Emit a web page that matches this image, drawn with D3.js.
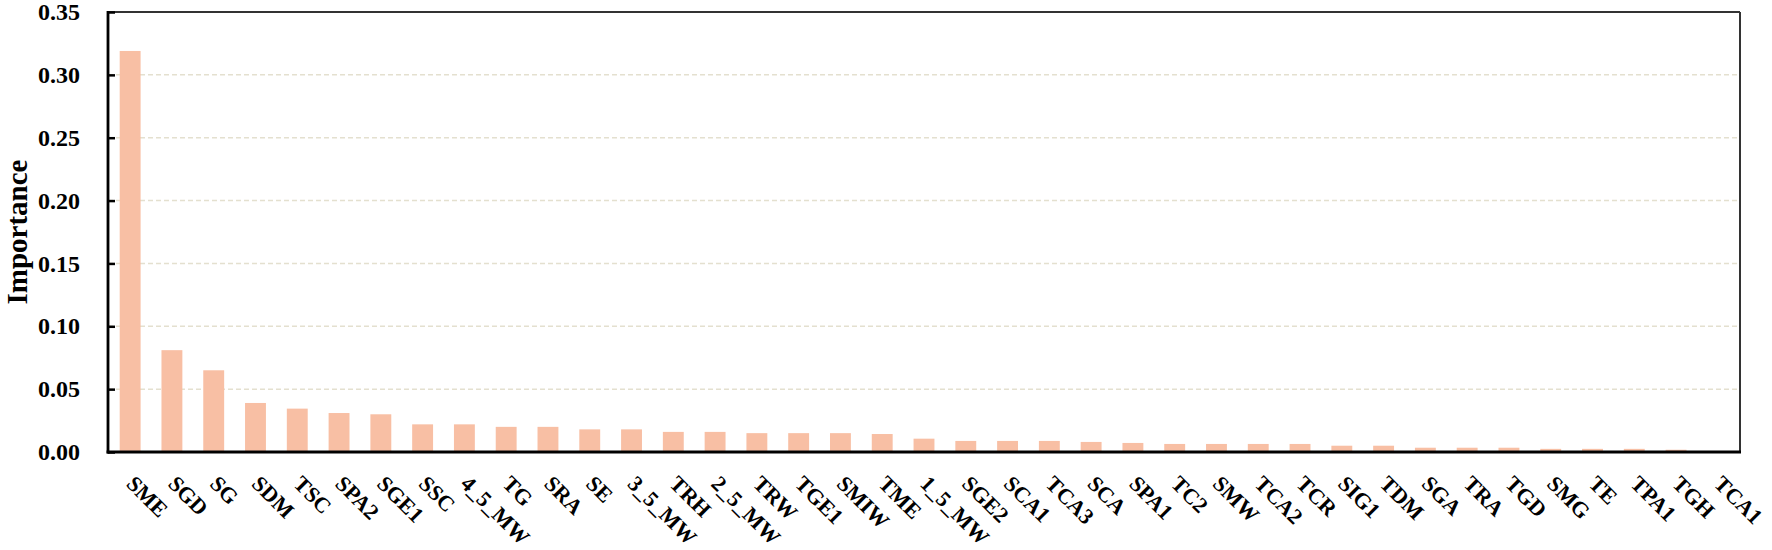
<!DOCTYPE html>
<html>
<head>
<meta charset="utf-8">
<script src="https://cdn.jsdelivr.net/npm/d3@7"></script>
<style>
  html, body { margin: 0; padding: 0; background: #fff; }
  svg { display: block; }
</style>
</head>
<body>
<svg id="chart" width="1772" height="550"></svg>
<script>
const categories = ["SME","SGD","SG","SDM","TSC","SPA2","SGE1","SSC","4_5_MW","TG","SRA","SE","3_5_MW","TRH","2_5_MW","TRW","TGE1","SMIW","TME","1_5_MW","SGE2","SCA1","TCA3","SCA","SPA1","TC2","SMW","TCA2","TCR","SIG1","TDM","SGA","TRA","TGD","SMG","TE","TPA1","TGH","TCA1"];
const importance = [0.319,0.081,0.065,0.039,0.0345,0.031,0.030,0.022,0.022,0.020,0.020,0.018,0.018,0.016,0.016,0.015,0.015,0.015,0.0143,0.0106,0.0088,0.0088,0.0088,0.008,0.0072,0.0064,0.0064,0.0064,0.0064,0.005,0.005,0.0034,0.0034,0.0034,0.0025,0.0025,0.0025,0.0018,0.0003];
const yTicks = [0.00,0.05,0.10,0.15,0.20,0.25,0.30,0.35];
const yLabel = "Importance";

(function () {
const svg = d3.select("#chart");
const mLeft = 108, mRight = 1740, mTop = 12, mBottom = 452;
const font = "'Liberation Serif', 'Times New Roman', serif";

const x = d3.scaleBand().domain(categories).range([mLeft, mRight]).paddingInner(0.5).paddingOuter(0.28);
const y = d3.scaleLinear().domain([0, 0.35]).range([mBottom, mTop]);

// gridlines
svg.append("g").selectAll("line")
  .data(yTicks.filter(t => t > 0 && t < 0.35))
  .join("line")
  .attr("x1", mLeft).attr("x2", mRight)
  .attr("y1", d => y(d)).attr("y2", d => y(d))
  .attr("stroke", "#e4e0cf").attr("stroke-width", 1.5)
  .attr("stroke-dasharray", "5,3");

// bars
svg.append("g").selectAll("rect")
  .data(categories.map((c, i) => ({c, v: importance[i]})))
  .join("rect")
  .attr("x", d => x(d.c))
  .attr("width", x.bandwidth())
  .attr("y", d => y(d.v))
  .attr("height", d => y(0) - y(d.v))
  .attr("fill", "#f8bfa4");

// frame top & right
svg.append("line").attr("x1", mLeft).attr("x2", mRight).attr("y1", mTop).attr("y2", mTop)
  .attr("stroke", "#333").attr("stroke-width", 2);
svg.append("line").attr("x1", mRight).attr("x2", mRight).attr("y1", mTop).attr("y2", mBottom)
  .attr("stroke", "#333").attr("stroke-width", 2);

// y axis
const yAxis = d3.axisLeft(y).tickValues(yTicks).tickFormat(d3.format(".2f"))
  .tickSizeInner(-7).tickSizeOuter(0).tickPadding(28);
const gy = svg.append("g").attr("transform", `translate(${mLeft},0)`).call(yAxis);
gy.select(".domain").remove();
gy.selectAll(".tick line").attr("stroke", "#000").attr("stroke-width", 2.5);
gy.selectAll(".tick text")
  .attr("font-family", font).attr("font-weight", "bold").attr("font-size", 24).attr("fill", "#000");

// left & bottom axis lines
svg.append("line").attr("x1", mLeft).attr("x2", mLeft).attr("y1", mTop - 1).attr("y2", mBottom + 1.4)
  .attr("stroke", "#000").attr("stroke-width", 2.8);
svg.append("line").attr("x1", mLeft - 1.4).attr("x2", mRight + 1).attr("y1", mBottom).attr("y2", mBottom)
  .attr("stroke", "#000").attr("stroke-width", 2.8);

// x labels
svg.append("g").selectAll("text")
  .data(categories)
  .join("text")
  .attr("transform", d => `translate(${x(d) + x.bandwidth() / 2 - 5},${mBottom + 33}) rotate(45)`)
  .attr("text-anchor", "start")
  .attr("font-family", font).attr("font-weight", "bold").attr("font-size", 22).attr("fill", "#000")
  .text(d => d);

// y title
svg.append("text")
  .attr("transform", `translate(27,${(mTop + mBottom) / 2}) rotate(-90)`)
  .attr("text-anchor", "middle")
  .attr("font-family", font).attr("font-weight", "bold").attr("font-size", 29).attr("fill", "#000")
  .text(yLabel);
})();
</script>
</body>
</html>
